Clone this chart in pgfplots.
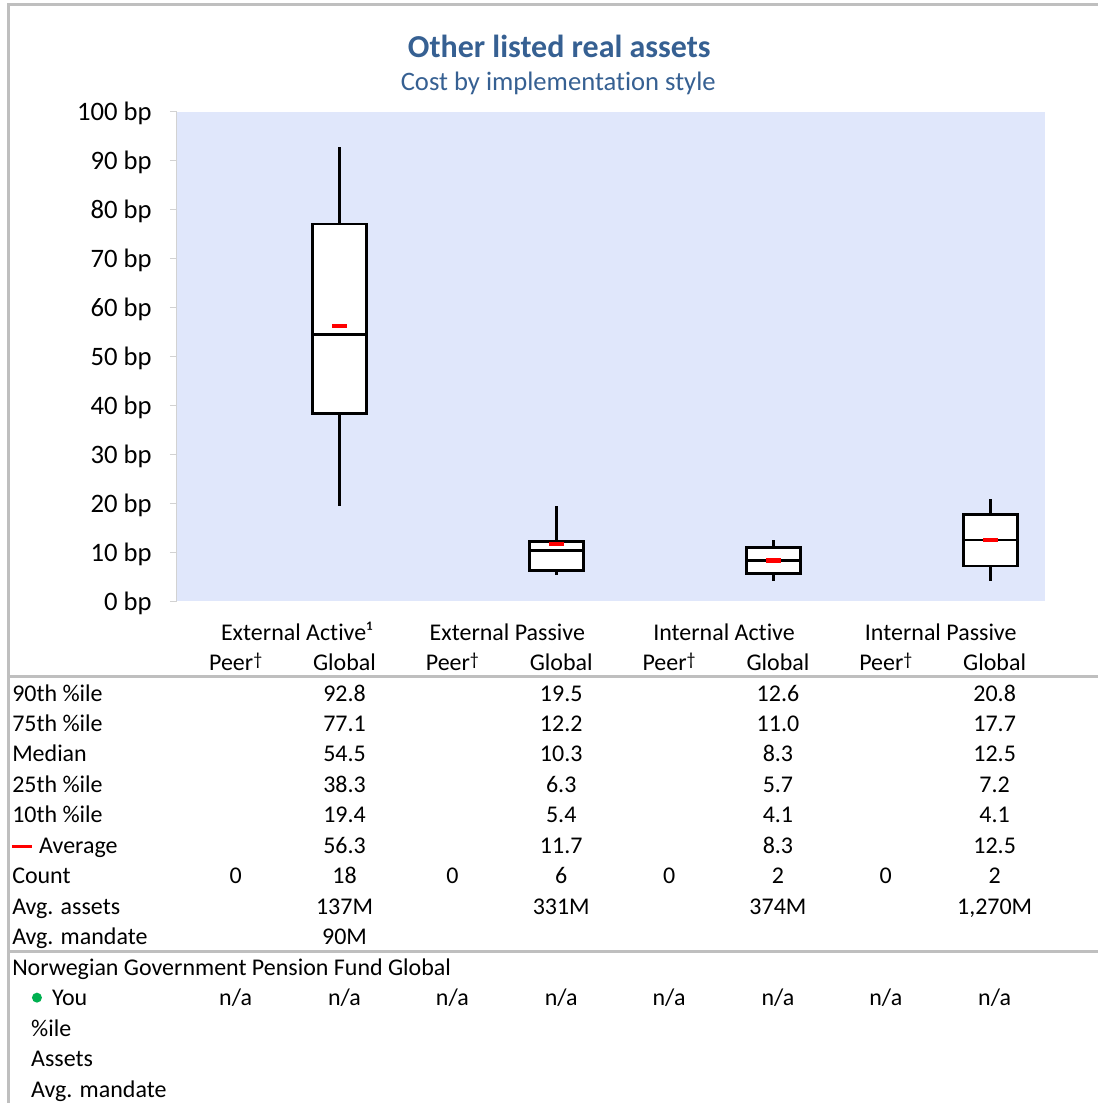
\documentclass[border=0pt]{standalone}
\usepackage{pgfplots}
\pgfplotsset{compat=1.18}
\usepgfplotslibrary{statistics}
\usepackage{fontspec}
\setmainfont{Carlito}[Ligatures={NoCommon}]
\definecolor{bgblue}{RGB}{224,231,251}
\definecolor{ttl}{RGB}{54,96,146}
\definecolor{sep}{RGB}{191,191,191}
\definecolor{axg}{RGB}{210,210,210}
\definecolor{youg}{RGB}{0,176,80}
\newcommand\tf{\fontsize{18}{21}\selectfont}
\newcommand\dg{\raisebox{3.8pt}{\fontsize{13.5}{13.5}\selectfont †}}
\begin{document}
\begin{tikzpicture}
\begin{scope}[x=0.75pt,y=-0.75pt]
\path (0,0) rectangle (1099,1104);
\draw[sep, line width=2.25pt] (8.5,5) -- (1099,5);
\draw[sep, line width=2.25pt] (8.5,3.5) -- (8.5,1104);
\draw[sep, line width=2.25pt] (8.5,677) -- (1099,677);
\draw[sep, line width=2.25pt] (8.5,953) -- (1099,953);
% titles
\node[anchor=base, text=ttl, font=\fontsize{24}{28}\selectfont\bfseries] at (560,58) {Other listed real assets};
\node[anchor=base, text=ttl, font=\fontsize{20}{24}\selectfont] at (559,91) {Cost by implementation style};
% headers
\begin{scope}[every node/.style={anchor=base, font=\tf, inner sep=0pt}]
\node at (297,641) {External Active¹};
\node at (508,641) {External Passive};
\node at (725,641) {Internal Active};
\node at (942,641) {Internal Passive};
\foreach \x in {236,453,670,887} {\node at (\x,671) {Peer\dg};}
\foreach \x in {345,562,779,996} {\node at (\x,671) {Global};}
% row labels
\node[anchor=base west] at (12,702) {90th \%ile};
\node[anchor=base west] at (12,732.5) {75th \%ile};
\node[anchor=base west] at (12,763) {Median};
\node[anchor=base west] at (12,793.5) {25th \%ile};
\node[anchor=base west] at (12,824) {10th \%ile};
\node[anchor=base west] at (39,854.5) {Average};
\node[anchor=base west] at (12,885) {Count};
\node[anchor=base west] at (12,915.5) {Avg. assets};
\node[anchor=base west] at (12,946) {Avg. mandate};
\node[anchor=base west] at (12,976.5) {Norwegian Government Pension Fund Global};
\node[anchor=base west] at (52,1007) {You};
\node[anchor=base west] at (31,1037.5) {\%ile};
\node[anchor=base west] at (31,1068) {Assets};
\node[anchor=base west] at (31,1098.5) {Avg. mandate};
% values
\node at (345,702) {92.8}; \node at (562,702) {19.5}; \node at (779,702) {12.6}; \node at (996,702) {20.8};
\node at (345,732.5) {77.1}; \node at (562,732.5) {12.2}; \node at (779,732.5) {11.0}; \node at (996,732.5) {17.7};
\node at (345,763) {54.5}; \node at (562,763) {10.3}; \node at (779,763) {8.3}; \node at (996,763) {12.5};
\node at (345,793.5) {38.3}; \node at (562,793.5) {6.3}; \node at (779,793.5) {5.7}; \node at (996,793.5) {7.2};
\node at (345,824) {19.4}; \node at (562,824) {5.4}; \node at (779,824) {4.1}; \node at (996,824) {4.1};
\node at (345,854.5) {56.3}; \node at (562,854.5) {11.7}; \node at (779,854.5) {8.3}; \node at (996,854.5) {12.5};
\node at (236,885) {0}; \node at (345,885) {18}; \node at (453,885) {0}; \node at (562,885) {6};
\node at (670,885) {0}; \node at (779,885) {2}; \node at (887,885) {0}; \node at (996,885) {2};
\node at (345,915.5) {137M}; \node at (562,915.5) {331M}; \node at (779,915.5) {374M}; \node at (996,915.5) {1,270M};
\node at (345,946) {90M};
\foreach \x in {236,345,453,562,670,779,887,996} {\node at (\x,1007) {n/a};}
\end{scope}
\draw[red, line width=2.4pt] (12,848) -- (32,848);
\fill[youg] (37,999) circle[radius=3.75pt];
\end{scope}
\begin{axis}[at={(132.75pt,-451.5pt)}, anchor=south west,
  scale only axis, width=651.75pt, height=367.5pt,
  xmin=-0.5, xmax=7.5, ymin=0, ymax=100,
  axis background/.style={fill=bgblue},
  axis x line=none, axis y line*=left,
  y axis line style={draw=axg, line width=0.75pt},
  ytick={0,10,...,100},
  yticklabels={0 bp,10 bp,20 bp,30 bp,40 bp,50 bp,60 bp,70 bp,80 bp,90 bp,100 bp},
  ytick style={draw=axg, line width=0.75pt},
  tick align=outside, major tick length=5.25pt,
  yticklabel style={font=\fontsize{20}{24}\selectfont, inner sep=0pt, xshift=-13.5pt, yshift=-1.5pt},
  clip=false,
  boxplot/draw direction=y,
  boxplot/box extend=0.5, boxplot/whisker extend=0,
  boxplot/every median/.style={line width=2.1pt, draw=black},
  boxplot/every box/.style={line width=2.1pt, draw=black, fill=white},
  boxplot/every whisker/.style={line width=2.1pt, draw=black},
]
\addplot[draw=black, fill=white, line width=2.1pt, boxplot prepared={upper whisker=92.8, upper quartile=77.1, median=54.5, lower quartile=38.3, lower whisker=19.4, draw position=1}] coordinates {};
\addplot[draw=black, fill=white, line width=2.1pt, boxplot prepared={upper whisker=19.5, upper quartile=12.2, median=10.3, lower quartile=6.3, lower whisker=5.4, draw position=3}] coordinates {};
\addplot[draw=black, fill=white, line width=2.1pt, boxplot prepared={upper whisker=12.6, upper quartile=11.0, median=8.3, lower quartile=5.7, lower whisker=4.1, draw position=5}] coordinates {};
\addplot[draw=black, fill=white, line width=2.1pt, boxplot prepared={upper whisker=20.8, upper quartile=17.7, median=12.5, lower quartile=7.2, lower whisker=4.1, draw position=7}] coordinates {};
\addplot[only marks, red, mark=-, mark size=5.6pt, line width=3.2pt] coordinates {(1,56.3) (3,11.7) (5,8.3) (7,12.5)};
\end{axis}
\end{tikzpicture}
\end{document}
